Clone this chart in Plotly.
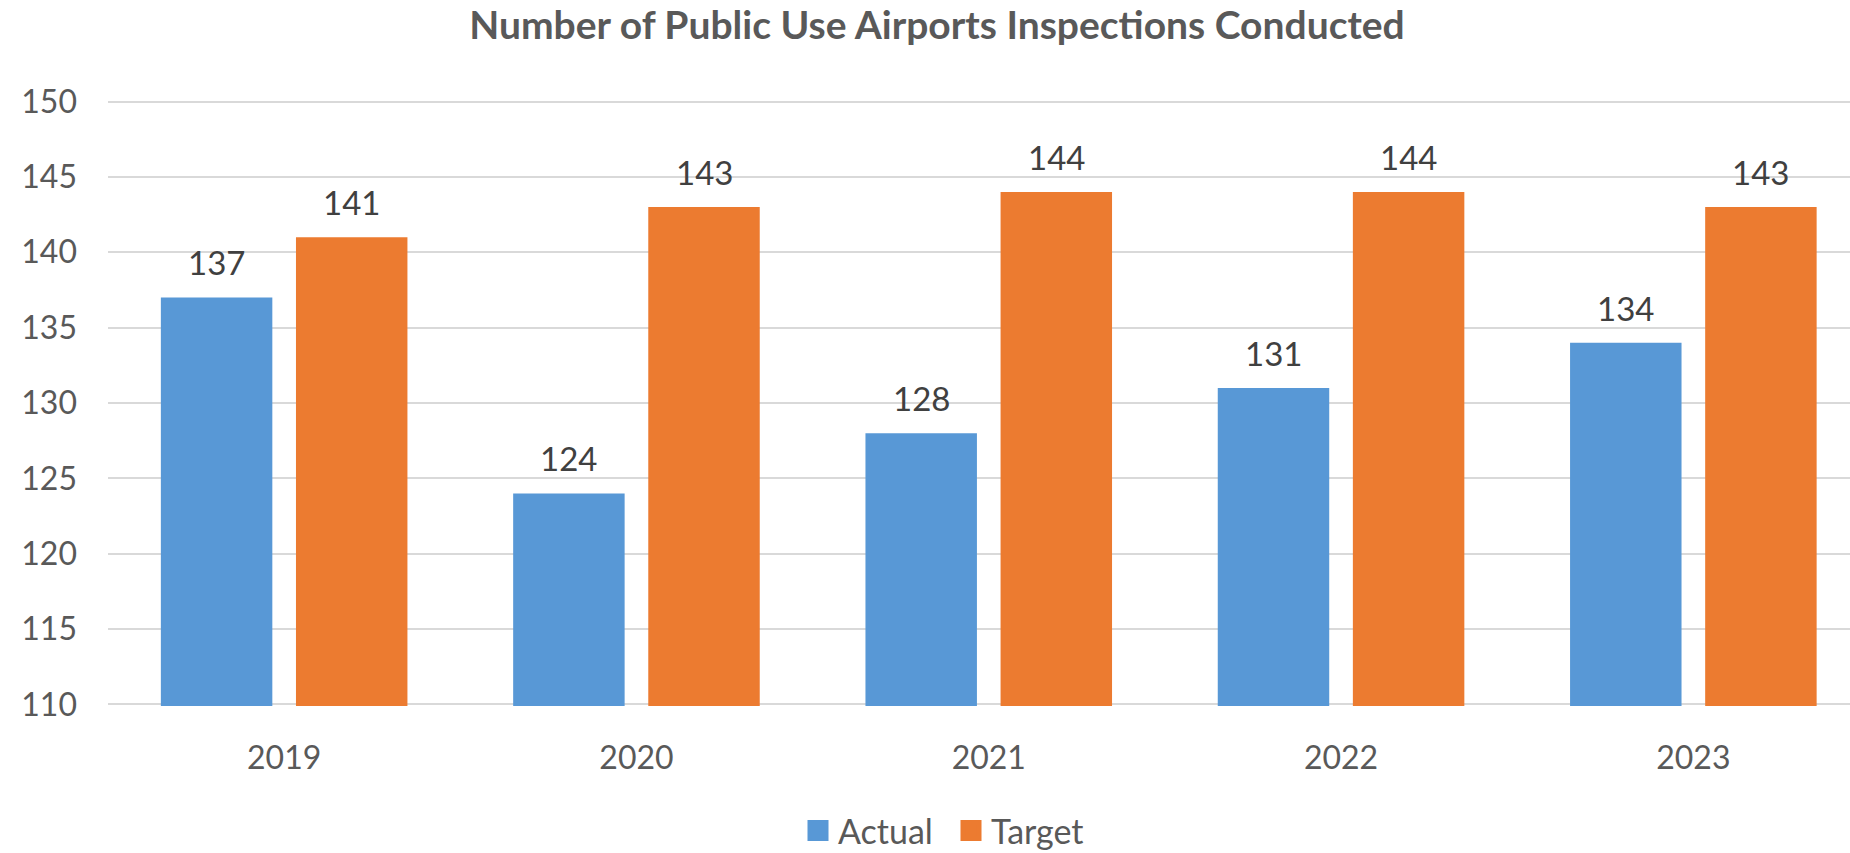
import plotly.graph_objects as go

years = ["2019", "2020", "2021", "2022", "2023"]
actual = [137, 124, 128, 131, 134]
target = [141, 143, 144, 144, 143]
y_ticks = [110, 115, 120, 125, 130, 135, 140, 145, 150]

W, H = 1850, 853
L, R, T, B = 108, 0, 100, 147
cat_px = 352.3
plot_w = W - L - R
x_max = -0.5 + plot_w / cat_px

FONT = "Lato"
TXT = "#595959"
LBL = "#404040"
BLUE = "#5898D6"
ORANGE = "#EC7B30"

fig = go.Figure()
fig.add_trace(go.Bar(name="Actual", x=years, y=actual, showlegend=False,
                     marker=dict(color=BLUE, line=dict(width=0))))
fig.add_trace(go.Bar(name="Target", x=years, y=target, showlegend=False,
                     marker=dict(color=ORANGE, line=dict(width=0))))
# legend entries with larger square swatches
for nm, col in (("Actual", BLUE), ("Target", ORANGE)):
    fig.add_trace(go.Scatter(name=nm, x=[None], y=[None], mode="markers",
                             marker=dict(symbol="square", size=16, color=col,
                                         line=dict(color=col, width=5))))

bargap = 0.233
bargroupgap = 0.175
slot = (1 - bargap) / 2
off_px = slot / 2 * cat_px

annotations = []
for series, sign in ((actual, -1), (target, 1)):
    for i, v in enumerate(series):
        annotations.append(dict(
            x=i, y=v, xref="x", yref="y", text=str(v), showarrow=False,
            xshift=sign * off_px, yanchor="middle", yshift=35,
            font=dict(family=FONT, size=33, color=LBL),
        ))

fig.update_layout(
    width=W, height=H,
    margin=dict(l=L, r=R, t=T, b=B, pad=0, autoexpand=False),
    paper_bgcolor="white", plot_bgcolor="white",
    barmode="group", bargap=bargap, bargroupgap=bargroupgap,
    title=dict(text="<b>Number of Public Use Airports Inspections Conducted</b>",
               x=937 / W, xref="container", xanchor="center",
               y=1 - 25 / H, yref="container", yanchor="middle",
               font=dict(family=FONT, size=39, color=TXT)),
    font=dict(family=FONT, size=32, color=TXT),
    xaxis=dict(type="category", range=[-0.5, x_max], showgrid=False, zeroline=False,
               showline=False, ticks="", ticklabelstandoff=30,
               tickfont=dict(size=32, color=TXT)),
    yaxis=dict(range=[109.9, 150.1], tickvals=y_ticks, showgrid=True, gridcolor="#D9D9D9",
               gridwidth=2, zeroline=False, showline=False, ticks="",
               ticklabelstandoff=30, tickfont=dict(size=32, color=TXT)),
    showlegend=True,
    legend=dict(orientation="h", xref="container", yref="container",
                x=951 / W, xanchor="center", y=1 - 831 / H, yanchor="middle",
                font=dict(family=FONT, size=34, color=TXT), itemclick=False,
                itemwidth=30, entrywidth=108),
    annotations=annotations,
)

fig.write_html("out.html", config={"displayModeBar": False},
               post_script="document.body.style.margin='0';document.body.style.overflow='hidden';")
